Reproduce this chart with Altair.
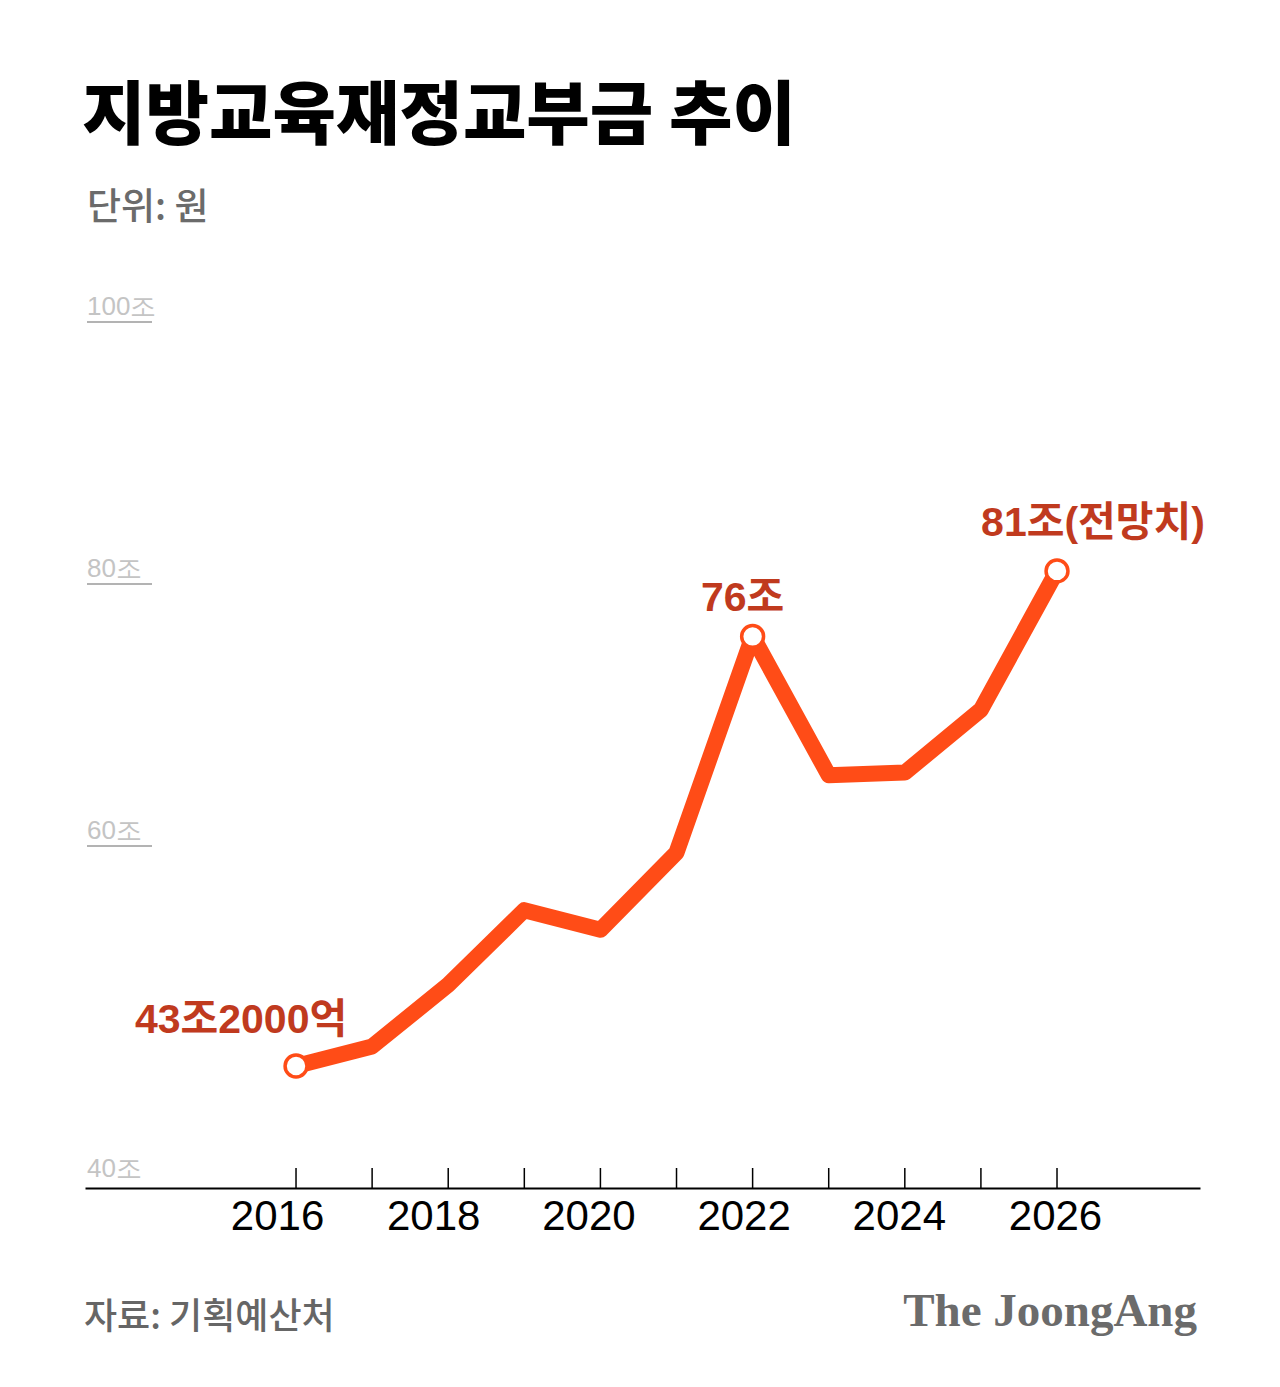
import altair as alt
import pandas as pd

# ---- data ----
years = [2016, 2017, 2018, 2019, 2020, 2021, 2022, 2023, 2024, 2025, 2026]
values = [43.2, 44.7, 49.4, 55.1, 53.6, 59.5, 76.0, 65.4, 65.6, 70.4, 81.0]

label_years = [2016, 2018, 2020, 2022, 2024, 2026]

ann_years = [2016, 2022, 2026]
ann_texts = ["43조2000억", "76조", "81조(전망치)"]

grid_values = [100, 80, 60]
grid_texts = ["100조", "80조", "60조"]
bottom_text = "40조"

title_text = "지방교육재정교부금 추이"
subtitle_text = "단위: 원"
source_text = "자료: 기획예산처"
brand_text = "The JoongAng"

# ---- styling ----
W, H = 1115, 866
X_DOM = [2013.227, 2027.879]
Y_MIN = 33.89
Y_DOM = [Y_MIN, 100]
LINE = "#FF4C17"
ANN = "#C03A1E"
KFONT = "Noto Sans CJK KR"

xs = alt.Scale(domain=X_DOM, nice=False, zero=False)
ys = alt.Scale(domain=Y_DOM, nice=False, zero=False)

df = pd.DataFrame({"year": years, "value": values})
ann_df = pd.DataFrame({"year": ann_years, "text": ann_texts})
ann_df["value"] = [values[years.index(y)] for y in ann_years]
grid_df = pd.DataFrame({"v": grid_values, "t": grid_texts})
bottom_df = pd.DataFrame({"v": [Y_MIN], "t": [bottom_text]})

offsets = {2016: -19, 2018: -15, 2020: -12, 2022: -9, 2024: -6}
label_offset = {
    "condition": [{"test": f"datum.value === {k}", "value": v} for k, v in offsets.items()],
    "value": -2,
}

x_axis = alt.Axis(
    values=label_years, format="d", title=None, grid=False, ticks=False,
    domain=True, domainColor="black", domainWidth=2,
    labelFont="Liberation Sans", labelFontSize=42, labelColor="black",
    labelPadding=8, labelFlush=False, labelOverlap=False,
    labelOffset=label_offset,
)

X = alt.X("year:Q", scale=xs, axis=x_axis)
Y = alt.Y("value:Q", scale=ys, axis=None)

ticks = alt.Chart(df).mark_rule(color="black", strokeWidth=1.5).encode(
    x=alt.X("year:Q", scale=xs), y=alt.value(H), y2=alt.value(H - 20)
)

grid_lines = alt.Chart(grid_df).mark_rule(color="#b3b3b3", strokeWidth=2).encode(
    x=alt.value(2), x2=alt.value(67), y=alt.Y("v:Q", scale=ys, axis=None)
)
grid_labels = alt.Chart(grid_df).mark_text(
    align="left", baseline="alphabetic", dy=-7, font="Liberation Sans",
    fontSize=26, color="#c4c4c4"
).encode(x=alt.value(2), y=alt.Y("v:Q", scale=ys, axis=None), text="t:N")
bottom_label = alt.Chart(bottom_df).mark_text(
    align="left", baseline="alphabetic", dy=-11, font="Liberation Sans",
    fontSize=26, color="#c4c4c4"
).encode(x=alt.value(2), y=alt.Y("v:Q", scale=ys, axis=None), text="t:N")

line = alt.Chart(df).mark_line(
    color=LINE, strokeWidth=16, strokeJoin="round", strokeCap="butt"
).encode(x=X, y=Y)

points = alt.Chart(ann_df).mark_point(
    shape="circle", filled=True, fill="white", stroke=LINE, strokeWidth=3.5,
    size=480, opacity=1
).encode(x=alt.X("year:Q", scale=xs), y=alt.Y("value:Q", scale=ys))

ann_shift = {2016: (-55, -33), 2022: (-10, -25), 2026: (36, -35)}
ann_layers = []
for yr in ann_years:
    dx, dy = ann_shift[yr]
    ann_layers.append(
        alt.Chart(ann_df).transform_filter(f"datum.year === {yr}").mark_text(
            align="center", baseline="alphabetic", dx=dx, dy=dy,
            font="Liberation Sans, Noto Sans CJK KR", fontWeight="bold",
            fontSize=41, color=ANN
        ).encode(x=alt.X("year:Q", scale=xs), y=alt.Y("value:Q", scale=ys), text="text:N")
    )

def free_text(txt, x, y, **kw):
    return alt.Chart(pd.DataFrame({"t": [txt]})).mark_text(
        baseline="alphabetic", **kw
    ).encode(x=alt.value(x), y=alt.value(y), text="t:N")

title = free_text(title_text, -3, -183, align="left", font=KFONT, fontWeight=900,
                  fontSize=69, color="black")
subtitle = free_text(subtitle_text, 2, -102, align="left", font=KFONT, fontWeight=500,
                     fontSize=37, color="#6b6b6b")
source = free_text(source_text, -1, 1007, align="left", font=KFONT, fontWeight=500,
                   fontSize=36, color="#666666")
brand = free_text(brand_text, 1112, 1004, align="right", font="Liberation Serif",
                  fontWeight="bold", fontSize=47, color="#6b6b6b")

chart = alt.layer(
    ticks, grid_lines, grid_labels, bottom_label, line, points, *ann_layers,
    title, subtitle, source, brand
).properties(
    width=W, height=H,
    background="white",
    padding={"left": 85, "top": 322, "right": 80, "bottom": 199},
    autosize=alt.AutoSizeParams(type="none"),
).configure_view(strokeWidth=0, stroke=None)

chart.save("out.html", embed_options={"renderer": "svg", "actions": False})
